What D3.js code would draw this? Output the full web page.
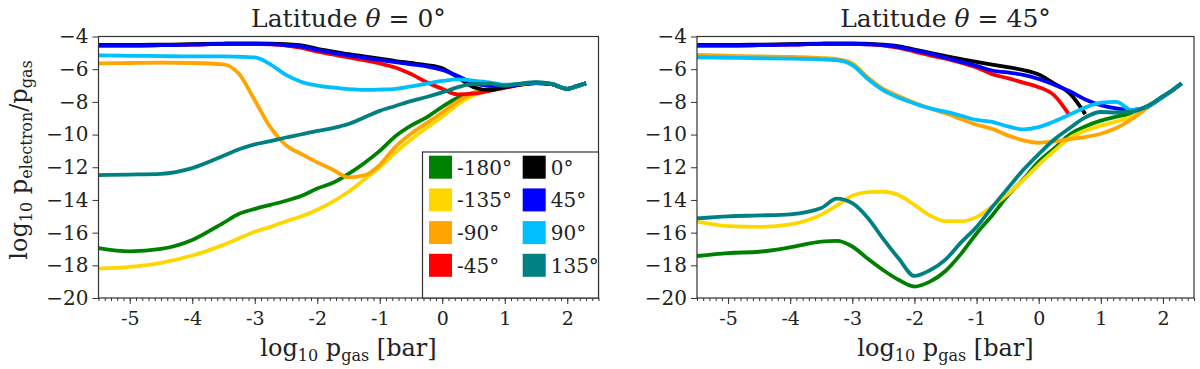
<!DOCTYPE html>
<html>
<head>
<meta charset="utf-8">
<script src="https://cdn.jsdelivr.net/npm/d3@7"></script>
<style>
  html, body { margin: 0; padding: 0; background: #fff; }
  svg text { font-family: "DejaVu Serif", serif; fill: #222; }
</style>
</head>
<body>
<svg id="chart" width="1200" height="369"></svg>
<script>
// x sample points, log10 p_gas [bar]
const xGrid = [-5.5, -5.0, -4.5, -4.0, -3.5, -3.25, -3.0, -2.75, -2.5, -2.25, -2.0, -1.75, -1.5, -1.25,
  -1.0, -0.75, -0.5, -0.25, 0, 0.25, 0.5, 0.75, 1.0, 1.25, 1.5, 1.75, 2.0, 2.15, 2.3];

const longitudes = ['-180°', '-135°', '-90°', '-45°', '0°', '45°', '90°', '135°'];
const colors = ['#008000', '#ffd700', '#ffa500', '#ff0000', '#000000', '#0000ff', '#00bfff', '#008080'];

const xTicks = [-5, -4, -3, -2, -1, 0, 1, 2];
const yTicks = [-4, -6, -8, -10, -12, -14, -16, -18, -20];

// latitude 0
const eq_m180 = [-16.95, -17.15, -17.0, -16.45, -15.4, -14.85, -14.55, -14.3, -14.05, -13.75, -13.3, -12.95, -12.4, -11.75,
  -11.0, -10.1, -9.45, -8.95, -8.3, -7.75, -7.45, -7.3, -7.1, -6.95, -6.85, -6.92, -7.2, -7.05, -6.86];
const eq_m135 = [-18.2, -18.1, -17.85, -17.4, -16.75, -16.35, -15.95, -15.65, -15.3, -15.0, -14.6, -14.1, -13.5, -12.75,
  -12.0, -11.1, -10.3, -9.6, -8.9, -8.15, -7.6, -7.3, -7.1, -6.95, -6.85, -6.92, -7.2, -7.05, -6.86];
const eq_m90 = [-5.65, -5.62, -5.6, -5.62, -5.7, -6.3, -7.9, -9.55, -10.65, -11.2, -11.7, -12.15, -12.62, -12.5,
  -11.85, -10.75, -9.95, -9.3, -8.65, -7.95, -7.45, -7.2, -7.05, -6.95, -6.85, -6.92, -7.2, -7.05, -6.86];
const eq_m45 = [-4.55, -4.55, -4.53, -4.5, -4.45, -4.45, -4.45, -4.48, -4.55, -4.7, -4.92, -5.1, -5.28, -5.45,
  -5.65, -5.9, -6.3, -6.8, -7.2, -7.55, -7.5, -7.32, -7.15, -6.95, -6.85, -6.92, -7.2, -7.05, -6.86];
const eq_0 = [-4.52, -4.52, -4.5, -4.47, -4.43, -4.42, -4.42, -4.43, -4.47, -4.55, -4.75, -4.92, -5.08, -5.22,
  -5.35, -5.5, -5.62, -5.75, -5.95, -6.5, -7.1, -7.27, -7.1, -6.95, -6.85, -6.92, -7.2, -7.05, -6.86];
const eq_45 = [-4.55, -4.55, -4.53, -4.5, -4.45, -4.45, -4.45, -4.47, -4.52, -4.62, -4.82, -5.0, -5.16, -5.3,
  -5.43, -5.57, -5.7, -5.83, -6.05, -6.42, -6.85, -7.02, -7.05, -6.93, -6.83, -6.9, -7.2, -7.03, -6.86];
const eq_90 = [-5.15, -5.18, -5.2, -5.22, -5.22, -5.24, -5.28, -5.7, -6.35, -6.78, -7.0, -7.12, -7.22, -7.27,
  -7.25, -7.2, -7.05, -6.88, -6.72, -6.62, -6.7, -6.8, -6.95, -6.9, -6.82, -6.9, -7.2, -7.05, -6.86];
const eq_135 = [-12.48, -12.45, -12.4, -12.05, -11.3, -10.9, -10.6, -10.4, -10.18, -9.98, -9.78, -9.6, -9.35, -8.95,
  -8.55, -8.25, -7.95, -7.7, -7.42, -7.1, -6.9, -6.88, -7.0, -6.88, -6.8, -6.9, -7.22, -7.03, -6.86];

// latitude 45
const mid_m180 = [-17.43, -17.25, -17.17, -16.9, -16.55, -16.5, -16.85, -17.6, -18.3, -18.9, -19.3, -19.0, -18.35, -17.3,
  -16.05, -14.95, -13.75, -12.75, -11.65, -10.85, -10.0, -9.5, -9.15, -8.9, -8.7, -8.3, -7.7, -7.3, -6.88];
const mid_m135 = [-15.33, -15.6, -15.65, -15.5, -14.9, -14.35, -13.75, -13.52, -13.5, -13.72, -14.3, -14.95, -15.3, -15.3,
  -15.05, -14.4, -13.65, -12.8, -11.85, -11.0, -10.2, -9.75, -9.45, -9.2, -8.9, -8.35, -7.7, -7.3, -6.88];
const mid_m90 = [-5.13, -5.18, -5.22, -5.25, -5.32, -5.38, -5.65, -6.5, -7.2, -7.65, -8.05, -8.4, -8.7, -9.05,
  -9.4, -9.65, -10.05, -10.35, -10.5, -10.42, -10.28, -10.15, -9.95, -9.6, -9.05, -8.35, -7.7, -7.3, -6.88];
const mid_m45 = [-4.55, -4.55, -4.53, -4.5, -4.45, -4.45, -4.45, -4.48, -4.55, -4.7, -4.92, -5.15, -5.35, -5.6,
  -5.9, -6.3, -6.55, -6.82, -7.1, -7.6, -8.85, null, null, null, null, null, null, null, null];
const mid_0 = [-4.52, -4.52, -4.5, -4.47, -4.43, -4.42, -4.42, -4.45, -4.5, -4.6, -4.8, -5.0, -5.2, -5.38,
  -5.55, -5.72, -5.88, -6.05, -6.33, -6.88, -7.48, -8.75, null, null, null, null, null, null, null];
const mid_45 = [-4.55, -4.55, -4.53, -4.5, -4.45, -4.45, -4.45, -4.48, -4.53, -4.65, -4.85, -5.05, -5.3, -5.55,
  -5.8, -6.08, -6.2, -6.35, -6.6, -6.95, -7.35, -7.85, -8.2, -8.4, -8.5, -8.3, -7.68, -7.3, -6.86];
const mid_90 = [-5.27, -5.3, -5.33, -5.35, -5.4, -5.45, -5.75, -6.6, -7.3, -7.75, -8.1, -8.4, -8.6, -8.85,
  -9.1, -9.22, -9.5, -9.68, -9.55, -9.2, -8.78, -8.35, -8.05, -8.0, -8.5, -8.3, -7.68, -7.3, -6.86];
const mid_135 = [-15.13, -15.0, -14.95, -14.88, -14.5, -13.92, -14.2, -15.1, -16.4, -17.6, -18.65, -18.3, -17.65, -16.6,
  -15.65, -14.45, -13.3, -12.17, -11.2, -10.3, -9.6, -8.95, -8.62, -8.65, -8.6, -8.25, -7.65, -7.3, -6.86];

const svg = d3.select('#chart');

const panels = [
  { title: '0°', left: 98.5, right: 598.5, series: [eq_m180, eq_m135, eq_m90, eq_m45, eq_0, eq_45, eq_90, eq_135], ylabel: true, legend: true },
  { title: '45°', left: 697, right: 1194, series: [mid_m180, mid_m135, mid_m90, mid_m45, mid_0, mid_45, mid_90, mid_135], ylabel: false, legend: false }
];

const plotTop = 36.5, plotBottom = 298;
const serif = '"DejaVu Serif", serif';

panels.forEach((p, pi) => {
  const x = d3.scaleLinear().domain([-5.5, 2.5]).range([p.left, p.right]);
  const y = d3.scaleLinear().domain([-20, -4]).range([plotBottom, plotTop]);
  const g = svg.append('g');

  // clip so curves stay inside the frame
  const clipId = 'clip' + pi;
  svg.append('clipPath').attr('id', clipId)
    .append('rect').attr('x', p.left).attr('y', plotTop).attr('width', p.right - p.left).attr('height', plotBottom - plotTop);

  const line = d3.line()
    .defined(d => d[1] !== null)
    .x(d => x(d[0]))
    .y(d => y(d[1]))
    .curve(d3.curveMonotoneX);

  const lines = g.append('g').attr('clip-path', `url(#${clipId})`);
  p.series.forEach((vals, i) => {
    lines.append('path')
      .datum(xGrid.map((xv, j) => [xv, vals[j]]))
      .attr('d', line)
      .attr('fill', 'none')
      .attr('stroke', colors[i])
      .attr('stroke-width', 3.8)
      .attr('stroke-linejoin', 'round')
      .attr('stroke-linecap', 'butt');
  });

  // minor x ticks
  const minor = d3.range(-55, 26).map(v => v / 10);
  g.append('g')
    .attr('transform', `translate(0,${plotBottom})`)
    .call(d3.axisBottom(x).tickValues(minor).tickSize(3).tickSizeOuter(0).tickFormat(''))
    .call(a => a.select('.domain').remove())
    .call(a => a.selectAll('line').attr('stroke', '#333'));

  // major x ticks
  g.append('g')
    .attr('transform', `translate(0,${plotBottom})`)
    .call(d3.axisBottom(x).tickValues(xTicks).tickSize(6).tickSizeOuter(0).tickPadding(8).tickFormat(d => String(d)))
    .call(a => a.select('.domain').remove())
    .call(a => a.selectAll('line').attr('stroke', '#333'))
    .call(a => a.selectAll('text').attr('font-size', 19).attr('font-family', serif).attr('fill', '#222'));

  // y ticks
  g.append('g')
    .attr('transform', `translate(${p.left},0)`)
    .call(d3.axisLeft(y).tickValues(yTicks).tickSize(6).tickSizeOuter(0).tickPadding(4)
      .tickFormat(d => '\u2212' + Math.abs(d)))
    .call(a => a.select('.domain').remove())
    .call(a => a.selectAll('line').attr('stroke', '#333'))
    .call(a => a.selectAll('text').attr('font-size', 20).attr('font-family', serif).attr('fill', '#222'));

  // frame
  g.append('rect')
    .attr('x', p.left).attr('y', plotTop)
    .attr('width', p.right - p.left).attr('height', plotBottom - plotTop)
    .attr('fill', 'none').attr('stroke', '#333').attr('stroke-width', 1.2);

  // title
  const cx = (p.left + p.right) / 2;
  const t = g.append('text').attr('x', cx).attr('y', 27).attr('text-anchor', 'middle').attr('font-size', 25);
  t.append('tspan').text('Latitude ');
  t.append('tspan').attr('font-style', 'italic').text('θ');
  t.append('tspan').text(' = ' + p.title);

  // x label
  const xl = g.append('text').attr('x', cx).attr('y', 356).attr('text-anchor', 'middle').attr('font-size', 24);
  xl.append('tspan').text('log');
  xl.append('tspan').attr('font-size', 16).attr('dy', 5).text('10');
  xl.append('tspan').attr('dy', -5).text(' p');
  xl.append('tspan').attr('font-size', 16).attr('dy', 5).text('gas');
  xl.append('tspan').attr('dy', -5).text(' [bar]');

  if (p.ylabel) {
    const yl = g.append('text')
      .attr('transform', 'translate(27,160) rotate(-90)')
      .attr('text-anchor', 'middle').attr('font-size', 24);
    yl.append('tspan').text('log');
    yl.append('tspan').attr('font-size', 16).attr('dy', 5).text('10');
    yl.append('tspan').attr('dy', -5).text(' p');
    yl.append('tspan').attr('font-size', 16).attr('dy', 5).text('electron');
    yl.append('tspan').attr('dy', -5).text('/p');
    yl.append('tspan').attr('font-size', 16).attr('dy', 5).text('gas');
  }

  if (p.legend) {
    const lg = g.append('g');
    lg.append('rect')
      .attr('x', 422.5).attr('y', 152)
      .attr('width', p.right - 422.5).attr('height', plotBottom - 152)
      .attr('fill', '#fff').attr('stroke', '#333').attr('stroke-width', 1.2);
    longitudes.forEach((lab, i) => {
      const col = Math.floor(i / 4), row = i % 4;
      const sx = 429 + col * 93.7, sy = 155.7 + row * 32.7;
      lg.append('rect').attr('x', sx).attr('y', sy).attr('width', 23).attr('height', 23).attr('fill', colors[i]);
      lg.append('text').attr('x', sx + 28).attr('y', sy + 19).attr('font-size', 20).text(lab);
    });
  }
});
</script>
</body>
</html>
